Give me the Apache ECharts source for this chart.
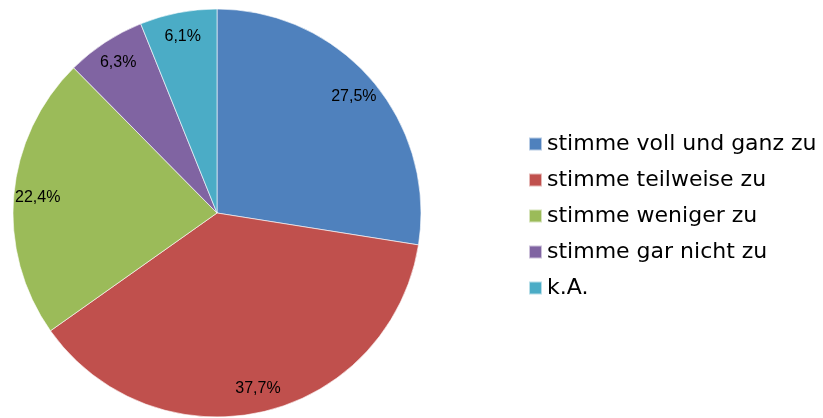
<!DOCTYPE html>
<html>
<head>
<meta charset="utf-8">
<script src="https://cdn.jsdelivr.net/npm/echarts@6/dist/echarts.min.js"></script>
<style>
  html, body { margin: 0; padding: 0; background: #fff; }
  #chart { width: 823px; height: 418px; }
</style>
</head>
<body>
<div id="chart"></div>
<script>
const categories = ['stimme voll und ganz zu', 'stimme teilweise zu', 'stimme weniger zu', 'stimme gar nicht zu', 'k.A.'];
const values = [27.5, 37.7, 22.4, 6.3, 6.1];
const colors = ['#4F81BD', '#C0504D', '#9BBB59', '#8064A2', '#4BACC6'];

const chart = echarts.init(document.getElementById('chart'));

const pieData = categories.map((name, i) => ({
  name,
  value: values[i],
  itemStyle: { color: colors[i] },
}));

// ring copy: same slices, but invisible, only carries the labels
const ringData = categories.map((name, i) => ({
  name,
  value: values[i],
  itemStyle: { color: 'rgba(0,0,0,0)' },
}));

const fmt = (p) => p.value.toFixed(1).replace('.', ',') + '%';

const option = {
  animation: false,
  color: colors,
  legend: {
    orient: 'vertical',
    left: 523,
    top: 128,
    icon: 'rect',
    itemWidth: 13,
    itemHeight: 13,
    itemGap: 14,
    textStyle: { fontFamily: 'DejaVu Sans', fontSize: 22, lineHeight: 22, color: '#000' },
    data: categories,
  },
  series: [
    {
      type: 'pie',
      center: [217, 213],
      radius: [0, 204],
      startAngle: 90,
      clockwise: true,
      label: { show: false },
      labelLine: { show: false },
      itemStyle: { borderColor: 'rgba(255,255,255,0.6)', borderWidth: 1 },
      data: pieData,
      silent: true,
    },
    {
      type: 'pie',
      center: [217, 213],
      radius: [150, 204],
      startAngle: 90,
      clockwise: true,
      legendHoverLink: false,
      label: {
        show: true,
        position: 'inside',
        formatter: fmt,
        fontFamily: 'Arial, Liberation Sans',
        fontSize: 16,
        color: '#000',
      },
      labelLine: { show: false },
      itemStyle: { borderWidth: 0 },
      data: ringData,
      silent: true,
    },
  ],
};

chart.setOption(option);
</script>
</body>
</html>
